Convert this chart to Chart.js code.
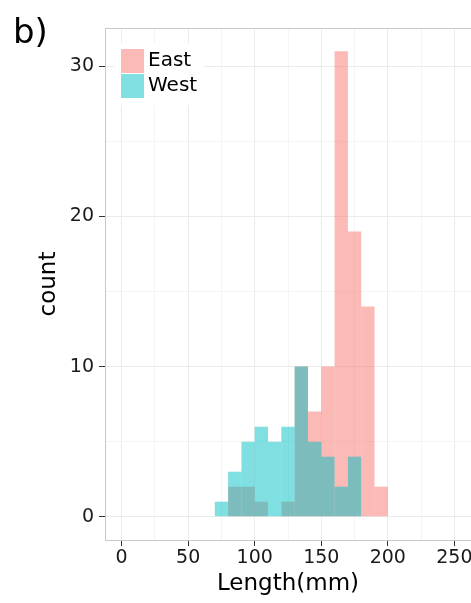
<!DOCTYPE html>
<html>
<head>
<meta charset="utf-8">
<script src="https://cdn.jsdelivr.net/npm/chart.js@4.4.1/dist/chart.umd.min.js"></script>
<style>
  html, body { margin: 0; padding: 0; background: #fff; }
  canvas { display: block; }
</style>
</head>
<body>
<canvas id="chart" width="471" height="603"></canvas>
<script>
// histogram bins, left edge of each 10 mm bin
const binStarts = [70, 80, 90, 100, 110, 120, 130, 140, 150, 160, 170, 180, 190];
const binWidth = 10;
const eastCounts = [0, 2, 2, 1, 0, 1, 10, 7, 10, 31, 19, 14, 2];
const westCounts = [1, 3, 5, 6, 5, 6, 10, 5, 4, 2, 4, 0, 0];
const seriesNames = ['East', 'West'];

// axis breaks (minor ones only get a grid line)
const xBreaks = [0, 25, 50, 75, 100, 125, 150, 175, 200, 225, 250];
const xLabels = [0, 50, 100, 150, 200, 250];
const yBreaks = [0, 5, 10, 15, 20, 25, 30];
const yLabels = [0, 10, 20, 30];

const panelLetter = 'b)';
const xTitle = 'Length(mm)';
const yTitle = 'count';

const eastFill = 'rgba(248, 118, 109, 0.5)';
const westFill = 'rgba(0, 191, 196, 0.5)';

Chart.defaults.font.family = "'DejaVu Sans', sans-serif";
Chart.defaults.color = '#1a1a1a';

const toPoints = counts => binStarts.map((s, i) => ({ x: s + binWidth / 2, y: counts[i] }));

// panel border (top; left/bottom come from the axes), "b)" tag and the legend
const decorations = {
  id: 'decorations',
  beforeDatasetsDraw(chart) {
    const { ctx, chartArea: a } = chart;
    ctx.save();
    ctx.strokeStyle = '#c9c9c9';
    ctx.lineWidth = 1;
    ctx.beginPath();
    ctx.moveTo(a.left, a.top + 0.5);
    ctx.lineTo(a.right, a.top + 0.5);
    ctx.stroke();
    ctx.restore();
  },
  afterDraw(chart) {
    const { ctx } = chart;
    ctx.save();
    ctx.fillStyle = '#000';
    ctx.font = "34px 'DejaVu Sans', sans-serif";
    ctx.textBaseline = 'alphabetic';
    ctx.fillText(panelLetter, 13, 43);

    // legend box
    ctx.fillStyle = '#fff';
    ctx.fillRect(114, 43, 90, 62);
    const fills = [eastFill, westFill];
    ctx.font = "20px 'DejaVu Sans', sans-serif";
    ctx.textBaseline = 'middle';
    seriesNames.forEach((name, i) => {
      const y = 49 + i * 25;
      ctx.fillStyle = fills[i];
      ctx.fillRect(121, y, 23, 24);
      ctx.fillStyle = '#000';
      ctx.fillText(name, 148, y + 12);
    });
    ctx.restore();
  }
};

new Chart(document.getElementById('chart'), {
  type: 'bar',
  data: {
    datasets: [
      { label: seriesNames[0], data: toPoints(eastCounts), backgroundColor: eastFill, borderWidth: 0, order: 1 },
      { label: seriesNames[1], data: toPoints(westCounts), backgroundColor: westFill, borderWidth: 0, order: 0 }
    ]
  },
  options: {
    responsive: false,
    animation: false,
    devicePixelRatio: 1,
    layout: { padding: { top: 28, left: 0, right: 0, bottom: 0 }, autoPadding: false },
    datasets: {
      bar: { grouped: false, barPercentage: 1, categoryPercentage: 1, borderWidth: 0, inflateAmount: 0 }
    },
    plugins: {
      legend: { display: false },
      tooltip: { enabled: false }
    },
    scales: {
      x: {
        type: 'linear',
        min: -12.5,
        max: 262.5,
        offset: false,
        afterBuildTicks: s => { s.ticks = xBreaks.map(v => ({ value: v })); },
        afterFit: s => { s.height = 63; s.paddingLeft = 0; s.paddingRight = 0; },
        grid: {
          offset: false,
          color: c => xLabels.includes(c.tick.value) ? '#ebebeb' : '#f4f4f4',
          tickColor: c => xLabels.includes(c.tick.value) ? '#333' : 'transparent',
          tickLength: 6
        },
        border: { display: true, color: '#c9c9c9' },
        ticks: {
          autoSkip: false,
          maxRotation: 0,
          padding: 1,
          font: { size: 19 },
          color: '#1a1a1a',
          callback: v => xLabels.includes(v) ? String(v) : ''
        },
        title: {
          display: true,
          text: xTitle,
          font: { size: 23 },
          color: '#000',
          padding: { top: 0, bottom: 5 }
        }
      },
      y: {
        min: -1.55,
        max: 32.55,
        afterBuildTicks: s => { s.ticks = yBreaks.map(v => ({ value: v })); },
        afterFit: s => { s.width = 105; s.paddingTop = 0; s.paddingBottom = 0; },
        grid: {
          color: c => yLabels.includes(c.tick.value) ? '#ebebeb' : '#f4f4f4',
          tickColor: c => yLabels.includes(c.tick.value) ? '#333' : 'transparent',
          tickLength: 6
        },
        border: { display: true, color: '#c9c9c9' },
        ticks: {
          padding: 5,
          font: { size: 19 },
          color: '#1a1a1a',
          callback: v => yLabels.includes(v) ? String(v) : ''
        },
        title: {
          display: true,
          text: yTitle,
          font: { size: 23 },
          color: '#000',
          padding: { top: 35, bottom: 0 }
        }
      }
    }
  },
  plugins: [decorations]
});
</script>
</body>
</html>
